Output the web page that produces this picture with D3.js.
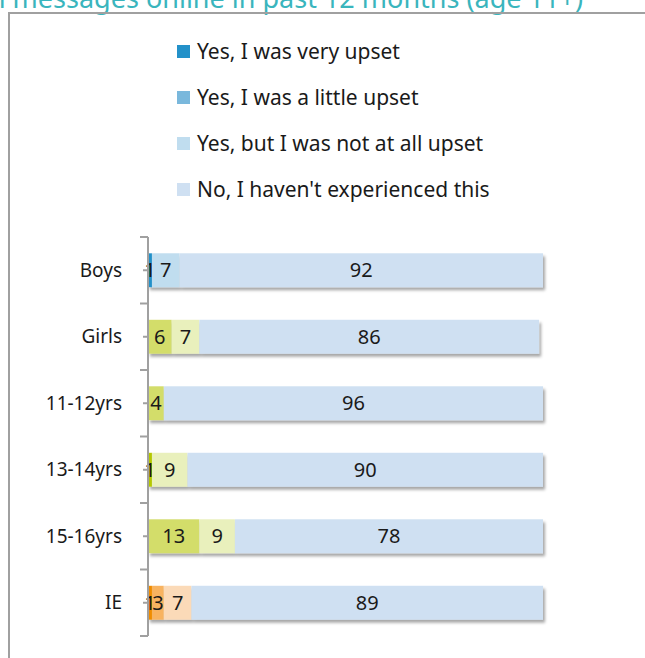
<!DOCTYPE html>
<html lang="en">
<head>
  <meta charset="UTF-8">
  <title>Upset by sexual messages online</title>
  <style>
    body { margin: 0; background: #fff; }
    svg { display: block; }
    text { font-family: "Noto Sans", sans-serif; fill: #1a1a1a; }
  </style>
</head>
<body>
  <svg width="645" height="658"></svg>
  <script src="https://d3js.org/d3.v7.min.js"></script>
  <script>
    // categories (top to bottom) and the four answer series
    const groups = ["Boys", "Girls", "11-12yrs", "13-14yrs", "15-16yrs", "IE"];
    const seriesNames = [
      "Yes, I was very upset",
      "Yes, I was a little upset",
      "Yes, but I was not at all upset",
      "No, I haven't experienced this"
    ];
    const veryUpset   = [1, 0, 0, 1, 0, 1];
    const littleUpset = [0, 6, 4, 0, 13, 3];
    const notUpset    = [7, 7, 0, 9, 9, 7];
    const notSeen     = [92, 86, 96, 90, 78, 89];

    // each row has its own palette (blue for boys, green for girls/ages, orange for IE)
    const legendColors = ["#2391c9", "#7ab8dc", "#c0ddef", "#cfe0f2"];
    const palettes = {
      blue:   ["#2391c9", "#7ab8dc", "#c0ddef", "#cfe0f2"],
      green:  ["#b5c800", "#d3dd6b", "#e9f0bc", "#cfe0f2"],
      orange: ["#f08c00", "#f8b360", "#fbdab8", "#cfe0f2"]
    };
    const rowPalette = ["blue", "green", "green", "green", "green", "orange"];

    const svg = d3.select("svg");

    // title, mostly cut off at the top edge
    svg.append("text")
      .attr("x", 583).attr("y", 8)
      .attr("text-anchor", "end")
      .style("font-size", "27px")
      .style("fill", "#3ab5bd")
      .text("Fig 10: Seen or received sexual messages online in past 12 months (age 11+)");

    // frame
    svg.append("path")
      .attr("d", "M9,658 V13 H645")
      .attr("fill", "none")
      .attr("stroke", "#a0a0a0")
      .attr("stroke-width", 2);

    const defs = svg.append("defs");
    defs.append("filter").attr("id", "shadow")
      .attr("x", "-5%").attr("y", "-20%").attr("width", "110%").attr("height", "160%")
      .append("feDropShadow")
      .attr("dx", 2).attr("dy", 3).attr("stdDeviation", 1.5)
      .attr("flood-color", "#000").attr("flood-opacity", 0.35);

    // legend
    const legend = svg.append("g");
    seriesNames.forEach((name, i) => {
      const y = 52 + i * 46;
      legend.append("rect")
        .attr("x", 177).attr("y", y - 7).attr("width", 13).attr("height", 13)
        .attr("fill", legendColors[i]);
      legend.append("text")
        .attr("x", 197).attr("y", y).attr("dy", "0.35em")
        .style("font-size", "21px")
        .text(name);
    });

    const x = d3.scaleLinear().domain([0, 100]).range([148, 543]);
    const y = d3.scaleBand().domain(groups).range([237, 636]).paddingInner(0.49).paddingOuter(0.245);

    const rows = groups.map((g, i) => {
      const vals = [veryUpset[i], littleUpset[i], notUpset[i], notSeen[i]];
      let acc = 0;
      return {
        group: g,
        palette: palettes[rowPalette[i]],
        segs: vals.map((v, k) => { const s = { k, v, x0: acc, x1: acc + v }; acc += v; return s; })
      };
    });

    const rowG = svg.append("g").selectAll("g")
      .data(rows).join("g")
      .attr("transform", d => `translate(0,${y(d.group)})`);

    rowG.append("g").attr("filter", "url(#shadow)")
      .selectAll("rect")
      .data(d => d.segs.filter(s => s.v > 0).map(s => ({ ...s, color: d.palette[s.k] })))
      .join("rect")
      .attr("x", s => x(s.x0))
      .attr("width", s => x(s.x1) - x(s.x0))
      .attr("height", y.bandwidth())
      .attr("fill", s => s.color);

    rowG.selectAll("text.val")
      .data(d => d.segs.filter(s => s.v > 0))
      .join("text")
      .attr("class", "val")
      .attr("x", s => (x(s.x0) + x(s.x1)) / 2)
      .attr("y", y.bandwidth() / 2)
      .attr("dy", "0.35em")
      .attr("text-anchor", "middle")
      .style("font-size", "20px")
      .text(s => s.v);

    // category axis: major ticks between bands, minor at band centres
    const axis = svg.append("g");
    const [r0, r1] = y.range();
    axis.append("line")
      .attr("x1", 148).attr("x2", 148).attr("y1", r0).attr("y2", r1)
      .attr("stroke", "#a0a0a0").attr("stroke-width", 2);
    d3.range(groups.length + 1).forEach(i => {
      const yy = r0 + i * y.step();
      axis.append("line")
        .attr("x1", 140).attr("x2", 148).attr("y1", yy).attr("y2", yy)
        .attr("stroke", "#a0a0a0").attr("stroke-width", 2);
    });
    groups.forEach(g => {
      const yy = y(g) + y.bandwidth() / 2;
      axis.append("line")
        .attr("x1", 143).attr("x2", 148).attr("y1", yy).attr("y2", yy)
        .attr("stroke", "#a0a0a0").attr("stroke-width", 2);
      axis.append("text")
        .attr("x", 122).attr("y", yy).attr("dy", "0.35em")
        .attr("text-anchor", "end")
        .style("font-size", "19px")
        .text(g);
    });
  </script>
</body>
</html>
